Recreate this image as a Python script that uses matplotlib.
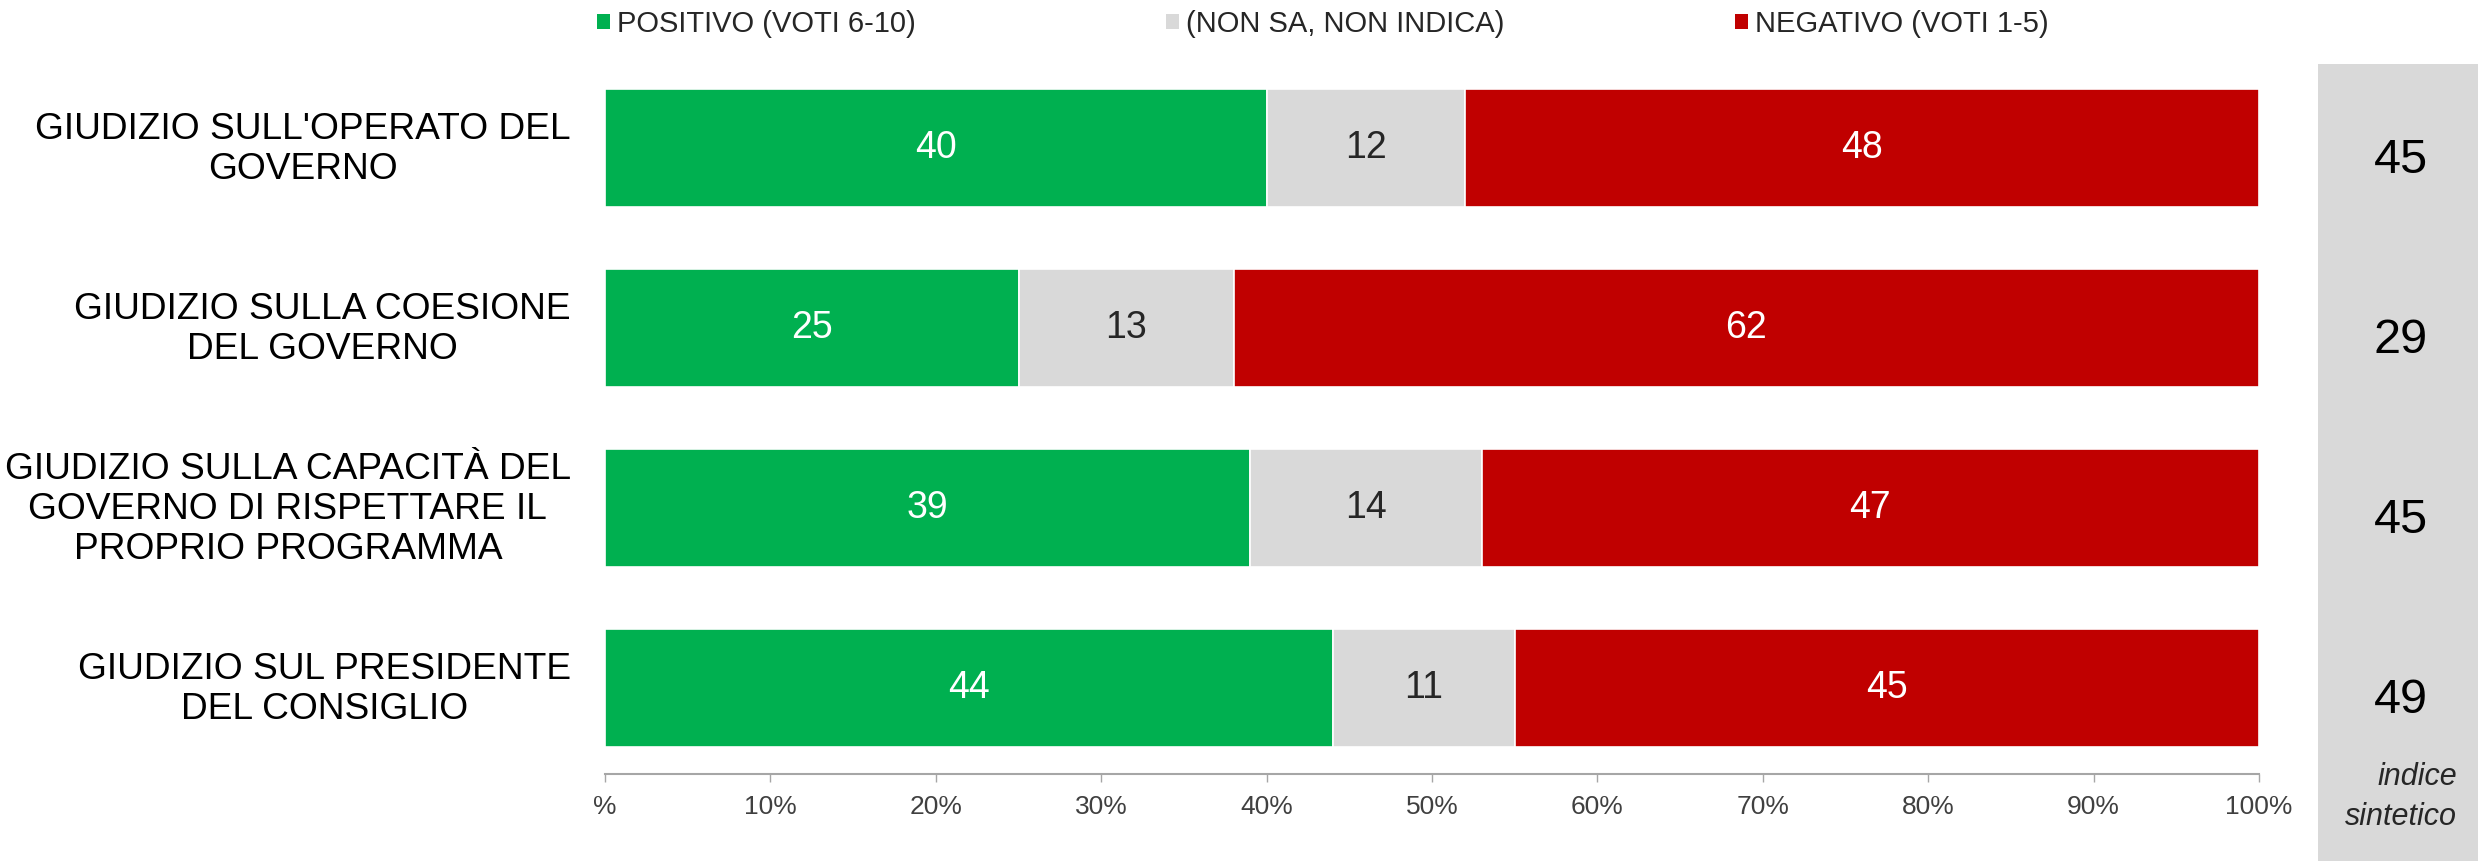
import numpy as np
import matplotlib.pyplot as plt
from matplotlib.transforms import blended_transform_factory
from matplotlib.patches import Rectangle

plt.rcParams['font.family'] = ['Liberation Sans', 'DejaVu Sans']

categories = [
    "GIUDIZIO SULL'OPERATO DEL\nGOVERNO",
    "GIUDIZIO SULLA COESIONE\nDEL GOVERNO",
    "GIUDIZIO SULLA CAPACITÀ DEL\nGOVERNO DI RISPETTARE IL\nPROPRIO PROGRAMMA",
    "GIUDIZIO SUL PRESIDENTE\nDEL CONSIGLIO",
]
positivo = [40, 25, 39, 44]
non_sa = [12, 13, 14, 11]
negativo = [48, 62, 47, 45]
indice = [45, 29, 45, 49]

series_names = ['POSITIVO (VOTI 6-10)', '(NON SA, NON INDICA)', 'NEGATIVO (VOTI 1-5)']
series_colors = ['#00B050', '#D9D9D9', '#C00000']
text_colors = ['white', '#262626', 'white']
tick_vals = np.arange(0, 101, 10)
tick_labels = ['%'] + [f'{v}%' for v in tick_vals[1:]]

W, H = 2478, 861
fig = plt.figure(figsize=(W / 100, H / 100), dpi=100)
ax = fig.add_axes([605 / W, 1 - 774 / H, 1654 / W, (774 - 62) / H])

# grey side panel for the synthetic index
fig.patches.append(Rectangle((2318 / W, 0), (W - 2318) / W, 1 - 64 / H,
                             transform=fig.transFigure, facecolor='#D9D9D9',
                             edgecolor='none', zorder=-1))

y = np.arange(len(categories))
left = np.zeros(len(categories))
handles = []
for vals, name, col, tcol in zip([positivo, non_sa, negativo], series_names,
                                 series_colors, text_colors):
    bars = ax.barh(y, vals, left=left, height=0.66, color=col,
                   edgecolor='white', linewidth=1.2, label=name)
    ax.bar_label(bars, labels=[str(v) for v in vals], label_type='center',
                 color=tcol, fontsize=27)
    handles.append(bars)
    left = left + np.array(vals)

ax.set_xlim(0, 100)
ax.set_ylim(len(categories) - 0.522, -0.478)
ax.set_yticks([])
ax.set_xticks(tick_vals)
ax.set_xticklabels(tick_labels)
ax.tick_params(axis='x', length=6, width=1, color='#A6A6A6', labelsize=19,
               labelcolor='#404040', pad=9)
for s in ['top', 'right', 'left']:
    ax.spines[s].set_visible(False)
ax.spines['bottom'].set_color('#A6A6A6')
ax.spines['bottom'].set_linewidth(1.5)

# category labels
tr = blended_transform_factory(fig.transFigure, ax.transData)
for yi, lab in zip(y, categories):
    ax.text(571 / W, yi + 0.01, lab, transform=tr, ha='right', va='center',
            multialignment='center', fontsize=26.7, color='black',
            linespacing=1.18)

# synthetic index values
for yi, v in zip(y, indice):
    ax.text(2401 / W, yi + 0.07, str(v), transform=tr, ha='center', va='center',
            fontsize=35, color='black')

fig.text(2457 / W, 1 - 797 / H, 'indice\nsintetico', ha='right', va='center',
         multialignment='right', fontsize=22, style='italic', color='#262626',
         linespacing=1.45)

# legend, one entry per position
legend_x = [597, 1166, 1735]
for h, name, lx in zip(handles, series_names, legend_x):
    leg = fig.legend([h], [name], loc='center left',
                     bbox_to_anchor=(lx / W, 1 - 24 / H), frameon=False,
                     fontsize=21, handlelength=0.45, handleheight=0.45,
                     handletextpad=0.22, borderpad=0, borderaxespad=0)
    for t in leg.get_texts():
        t.set_color('#262626')
    for p in leg.get_patches():
        p.set_edgecolor('none')

fig.savefig('out.png', dpi=100)
